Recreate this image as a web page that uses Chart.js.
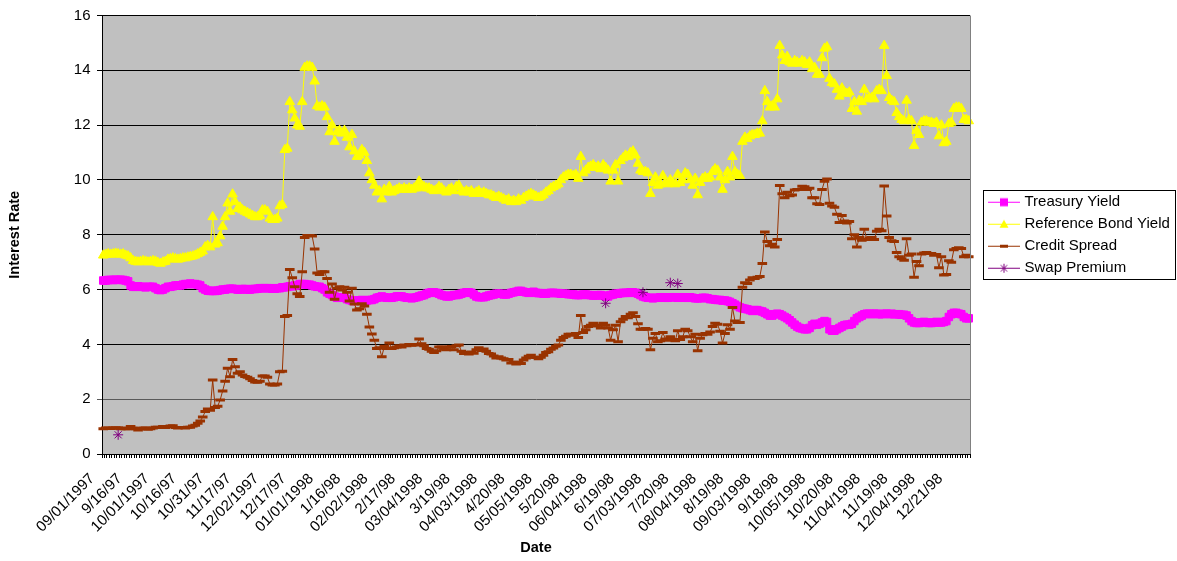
<!DOCTYPE html>
<html><head><meta charset="utf-8">
<script src="https://cdn.jsdelivr.net/npm/chart.js@4.4.0/dist/chart.umd.min.js"></script>
<style>html,body{margin:0;padding:0;background:#fff;}#c{display:block;}</style>
</head><body>
<canvas id="c" width="1177" height="561"></canvas>
<script>
// ---- tick labels (every 11th business day) ----
const tickLabels = ['09/01/1997','9/16/97','10/01/1997','10/16/97','10/31/97','11/17/97','12/02/1997','12/17/97',
 '01/01/1998','1/16/98','02/02/1998','2/17/98','03/04/1998','3/19/98','04/03/1998','4/20/98','05/05/1998','5/20/98',
 '06/04/1998','6/19/98','07/03/1998','7/20/98','08/04/1998','8/19/98','09/03/1998','9/18/98','10/05/1998','10/20/98',
 '11/04/1998','11/19/98','12/04/1998','12/21/98'];
const labelEvery = 11;

// ---- series values ----
const referenceBondYield = [
 7.25,7.28,7.3,7.28,7.3,7.32,7.3,7.28,7.3,7.25,7.22,
 7.15,7.05,7.02,7.0,7.02,7.05,7.03,7.0,7.02,7.05,7.03,
 6.98,6.95,7.0,7.02,7.1,7.12,7.15,7.12,7.1,7.12,7.15,
 7.15,7.18,7.2,7.22,7.25,7.3,7.35,7.4,7.55,7.6,7.55,
 8.65,7.65,7.7,7.95,8.3,8.65,9.15,8.85,9.48,9.2,8.95,
 9.0,8.9,8.85,8.8,8.75,8.7,8.65,8.65,8.7,8.9,
 8.9,8.85,8.6,8.55,8.55,8.6,9.05,9.1,11.1,11.15,12.85,
 12.55,12.25,12.0,11.95,12.85,14.1,14.15,14.15,14.1,13.6,12.7,
 12.65,12.7,12.65,12.3,11.75,12.0,11.4,11.75,11.8,11.7,11.8,
 11.55,11.2,11.65,11.05,10.85,10.9,11.1,11.0,10.7,10.25,10.0,
 9.8,9.55,9.6,9.3,9.65,9.55,9.75,9.55,9.6,9.65,9.7,
 9.65,9.7,9.65,9.7,9.65,9.7,9.7,9.95,9.8,9.75,9.7,
 9.7,9.65,9.6,9.65,9.75,9.7,9.6,9.55,9.65,9.7,9.6,
 9.75,9.8,9.6,9.55,9.6,9.55,9.6,9.5,9.55,9.6,9.5,
 9.55,9.5,9.45,9.45,9.4,9.35,9.4,9.35,9.3,9.25,9.3,
 9.2,9.25,9.2,9.3,9.25,9.35,9.4,9.45,9.5,9.45,
 9.4,9.35,9.4,9.45,9.55,9.6,9.7,9.75,9.8,9.85,10.0,
 10.1,10.15,10.2,10.2,10.15,10.2,10.05,10.85,10.25,10.35,10.45,
 10.5,10.55,10.45,10.5,10.4,10.55,10.45,10.35,9.95,10.35,10.55,
 9.95,10.7,10.8,10.9,10.85,11.0,11.05,10.9,10.6,10.35,10.3,
 10.3,10.25,9.5,9.9,10.1,9.8,9.85,10.15,9.9,9.85,10.0,
 9.9,9.85,10.2,9.9,10.0,10.25,10.2,10.0,9.8,10.05,9.45,
 9.9,10.05,10.1,10.05,10.1,10.3,10.4,10.35,10.1,9.65,10.0,
 10.3,10.1,10.85,10.3,10.2,10.15,11.4,11.55,11.5,11.6,11.65,
 11.65,11.7,11.7,12.15,13.25,12.85,12.65,12.7,12.65,12.95,14.9,
 14.55,14.35,14.5,14.3,14.25,14.35,14.3,14.25,14.35,14.3,14.2,
 14.3,14.05,14.1,13.85,13.85,14.45,14.8,14.85,13.7,13.55,
 13.5,13.3,13.05,13.35,13.2,13.15,13.2,12.6,12.85,12.5,12.9,
 12.85,13.3,12.95,13.0,13.0,12.95,13.25,13.3,13.25,14.9,13.8,
 13.0,12.9,12.85,12.45,12.3,12.2,12.15,12.9,12.2,12.15,11.25,
 11.8,11.65,12.1,12.15,12.15,12.1,12.1,12.05,12.1,11.6,12.0,
 11.35,11.4,12.05,12.1,12.6,12.65,12.65,12.6,12.2,12.2,12.15];

const treasuryYield = [
 6.33,6.33,6.35,6.35,6.35,6.36,6.35,6.36,6.35,6.33,6.3,
 6.15,6.1,6.1,6.12,6.1,6.1,6.08,6.1,6.1,6.1,6.05,
 6.0,5.98,6.0,6.05,6.1,6.1,6.12,6.15,6.15,6.15,6.18,
 6.2,6.2,6.22,6.2,6.2,6.18,6.15,6.05,6.0,5.96,5.95,
 5.95,5.95,5.96,5.98,6.0,6.0,6.02,6.03,6.03,6.02,6.0,
 6.0,6.02,6.02,6.0,6.0,6.02,6.02,6.03,6.05,6.05,
 6.05,6.05,6.05,6.03,6.03,6.05,6.05,6.08,6.08,6.1,6.12,
 6.12,6.15,6.15,6.2,6.2,6.2,6.18,6.18,6.15,6.12,6.1,
 6.1,6.05,6.0,5.9,5.85,5.8,5.75,5.7,5.7,5.72,5.72,
 5.65,5.62,5.6,5.58,5.6,5.6,5.62,5.6,5.6,5.62,5.62,
 5.65,5.7,5.72,5.75,5.72,5.7,5.7,5.7,5.72,5.75,5.75,
 5.75,5.72,5.7,5.7,5.68,5.7,5.72,5.75,5.78,5.8,5.85,
 5.88,5.9,5.9,5.88,5.85,5.8,5.78,5.75,5.75,5.78,5.8,
 5.8,5.82,5.85,5.88,5.9,5.9,5.88,5.82,5.75,5.72,5.72,
 5.72,5.75,5.78,5.8,5.82,5.85,5.85,5.85,5.82,5.82,5.85,
 5.88,5.9,5.92,5.95,5.95,5.92,5.9,5.88,5.9,5.92,
 5.88,5.87,5.87,5.85,5.85,5.87,5.88,5.88,5.87,5.87,5.85,
 5.85,5.85,5.83,5.83,5.82,5.8,5.8,5.8,5.82,5.82,5.8,
 5.8,5.78,5.78,5.8,5.8,5.78,5.75,5.75,5.8,5.82,5.85,
 5.85,5.87,5.88,5.88,5.88,5.9,5.9,5.88,5.85,5.8,5.75,
 5.72,5.7,5.7,5.68,5.7,5.7,5.72,5.72,5.7,5.7,5.72,
 5.72,5.72,5.7,5.72,5.72,5.7,5.7,5.72,5.7,5.68,5.68,
 5.68,5.7,5.7,5.68,5.65,5.65,5.63,5.62,5.62,5.6,5.6,
 5.58,5.55,5.5,5.45,5.4,5.35,5.32,5.3,5.28,5.25,5.22,
 5.25,5.25,5.22,5.2,5.15,5.1,5.05,5.05,5.1,5.12,5.1,
 5.05,5.0,4.95,4.88,4.8,4.72,4.65,4.6,4.58,4.55,4.55,
 4.6,4.7,4.75,4.72,4.75,4.8,4.85,4.82,4.55,4.5,
 4.5,4.55,4.6,4.65,4.7,4.72,4.72,4.75,4.85,4.95,5.0,
 5.05,5.1,5.12,5.12,5.1,5.12,5.12,5.1,5.1,5.12,5.12,
 5.1,5.12,5.1,5.1,5.1,5.08,5.08,5.05,4.95,4.85,4.8,
 4.78,4.78,4.8,4.82,4.8,4.78,4.78,4.8,4.82,4.8,4.8,
 4.82,4.85,5.0,5.1,5.15,5.15,5.12,5.1,5.0,4.95,4.95];

const creditSpread = [
 0.92,0.95,0.95,0.93,0.95,0.96,0.95,0.92,0.95,0.92,0.92,
 1.0,0.95,0.92,0.88,0.92,0.95,0.95,0.9,0.92,0.95,0.98,
 0.98,0.97,1.0,0.97,1.0,1.02,1.03,0.97,0.95,0.97,0.97,
 0.95,0.98,0.98,1.02,1.05,1.12,1.2,1.35,1.55,1.64,1.6,
 2.7,1.7,1.74,1.97,2.3,2.65,3.13,2.82,3.45,3.18,2.95,
 3.0,2.88,2.83,2.8,2.75,2.68,2.63,2.62,2.65,2.85,
 2.85,2.8,2.55,2.52,2.52,2.55,3.0,3.02,5.02,5.05,6.73,
 6.43,6.1,5.85,5.75,6.65,7.9,7.97,7.97,7.95,7.48,6.6,
 6.55,6.65,6.65,6.4,5.9,6.2,5.65,6.05,6.1,5.98,6.08,
 5.9,5.58,6.05,5.47,5.25,5.3,5.48,5.4,5.1,4.63,4.38,
 4.15,3.85,3.88,3.55,3.93,3.85,4.05,3.85,3.88,3.9,3.95,
 3.9,3.98,3.95,4.0,3.97,4.0,3.98,4.2,4.02,3.95,3.85,
 3.82,3.75,3.7,3.77,3.9,3.9,3.82,3.8,3.9,3.92,3.8,
 3.95,3.98,3.75,3.67,3.7,3.65,3.72,3.68,3.8,3.88,3.78,
 3.83,3.75,3.67,3.65,3.58,3.5,3.55,3.5,3.48,3.43,3.45,
 3.32,3.35,3.28,3.35,3.3,3.43,3.5,3.57,3.6,3.53,
 3.52,3.48,3.53,3.6,3.7,3.73,3.82,3.87,3.93,3.98,4.15,
 4.25,4.3,4.37,4.37,4.33,4.4,4.25,5.05,4.43,4.53,4.65,
 4.7,4.77,4.67,4.7,4.6,4.77,4.7,4.6,4.15,4.53,4.7,
 4.1,4.83,4.92,5.02,4.97,5.1,5.15,5.02,4.75,4.55,4.55,
 4.58,4.55,3.8,4.22,4.4,4.1,4.13,4.43,4.2,4.15,4.28,
 4.18,4.13,4.5,4.18,4.28,4.55,4.5,4.28,4.1,4.37,3.77,
 4.22,4.35,4.4,4.37,4.45,4.65,4.77,4.73,4.48,4.05,4.4,
 4.72,4.55,5.35,4.85,4.8,4.8,6.08,6.25,6.22,6.35,6.43,
 6.4,6.45,6.48,6.95,8.1,7.75,7.6,7.65,7.55,7.83,9.8,
 9.5,9.35,9.55,9.42,9.45,9.63,9.65,9.65,9.77,9.75,9.65,
 9.7,9.35,9.35,9.13,9.1,9.65,9.95,10.03,9.15,9.05,
 9.0,8.75,8.45,8.7,8.5,8.43,8.48,7.85,8.0,7.55,7.9,
 7.8,8.2,7.83,7.88,7.9,7.83,8.13,8.2,8.15,9.78,8.68,
 7.9,7.78,7.75,7.35,7.2,7.12,7.07,7.85,7.25,7.3,6.45,
 7.02,6.87,7.3,7.33,7.35,7.32,7.32,7.25,7.28,6.8,7.2,
 6.53,6.55,7.05,7.0,7.45,7.5,7.53,7.5,7.2,7.25,7.2];

// Swap premium: only a few observations (category index -> value)
const swapIndex  = [6, 202, 217, 228, 231];
const swapValues = [0.7, 5.5, 5.9, 6.25, 6.22];

const seriesNames = ['Treasury Yield','Reference Bond Yield','Credit Spread','Swap Premium'];
const seriesColors = ['#FF00FF','#FFFF00','#993300','#800080'];

// ---- tables the library needs ----
const N = referenceBondYield.length;
const categories = Array.from({length: N}, (_, i) =>
  (i % labelEvery === 0 && i / labelEvery < tickLabels.length) ? tickLabels[i / labelEvery] : '');
const swapPremium = new Array(N).fill(null);
swapIndex.forEach((idx, k) => { swapPremium[idx] = swapValues[k]; });

const FONT = "'Liberation Sans', Arial, Helvetica, sans-serif";

// legend sample: line with marker (Excel style)
function legendIcon(kind, color) {
  const c = document.createElement('canvas');
  c.width = 46; c.height = 14;
  const g = c.getContext('2d');
  g.strokeStyle = color; g.fillStyle = color; g.lineWidth = 1;
  g.beginPath(); g.moveTo(14, 7.5); g.lineTo(46, 7.5); g.stroke();
  const cx = 30, cy = 7.5;
  if (kind === 'rect') {
    g.fillRect(cx - 4, cy - 4, 8, 8);
  } else if (kind === 'triangle') {
    g.beginPath(); g.moveTo(cx, cy - 4.5); g.lineTo(cx + 4.5, cy + 3.5); g.lineTo(cx - 4.5, cy + 3.5); g.closePath(); g.fill();
  } else if (kind === 'line') {
    g.lineWidth = 3; g.beginPath(); g.moveTo(cx - 4, cy); g.lineTo(cx + 4, cy); g.stroke();
  } else if (kind === 'star') {
    g.lineWidth = 1; g.beginPath();
    g.moveTo(cx - 4.5, cy); g.lineTo(cx + 4.5, cy);
    g.moveTo(cx, cy - 4.5); g.lineTo(cx, cy + 4.5);
    g.moveTo(cx - 3.2, cy - 3.2); g.lineTo(cx + 3.2, cy + 3.2);
    g.moveTo(cx - 3.2, cy + 3.2); g.lineTo(cx + 3.2, cy - 3.2);
    g.stroke();
  }
  return c;
}
const legendIcons = [
  legendIcon('rect', seriesColors[0]),
  legendIcon('triangle', seriesColors[1]),
  legendIcon('line', seriesColors[2]),
  legendIcon('star', seriesColors[3])
];

const LEG_FONT = 15, LEG_PAD = 7;

const bgPlugin = {
  id: 'plotBg',
  beforeDraw(chart) {
    const {ctx, chartArea: a} = chart;
    if (!a) return;
    ctx.save(); ctx.fillStyle = '#C0C0C0';
    ctx.fillRect(a.left, a.top, a.right - a.left, a.bottom - a.top);
    ctx.restore();
  },
  afterDraw(chart) {
    const {ctx, chartArea: a} = chart;
    ctx.save();
    ctx.strokeStyle = '#808080'; ctx.lineWidth = 1;
    ctx.beginPath(); ctx.moveTo(Math.round(a.right) + 0.5, a.top); ctx.lineTo(Math.round(a.right) + 0.5, a.bottom); ctx.stroke();
    const L = chart.legend;
    if (L) {
      const n = chart.data.datasets.length;
      const rowH = LEG_FONT + LEG_PAD;
      const startY = (L.top + LEG_PAD + L.bottom - n * rowH) / 2;
      const x0 = Math.round(L.left + 13) + 0.5;
      const y0 = Math.round(startY - 4) + 0.5;
      const y1 = Math.round(startY + (n - 1) * rowH + LEG_FONT + 4) + 0.5;
      const x1 = Math.round(L.right - 2) + 0.5;
      ctx.strokeStyle = '#000'; ctx.lineWidth = 1;
      ctx.strokeRect(x0, y0, x1 - x0, y1 - y0);
    }
    ctx.restore();
  }
};

new Chart(document.getElementById('c'), {
  type: 'line',
  data: {
    labels: categories,
    datasets: [
      { label: seriesNames[0], data: treasuryYield, borderColor: seriesColors[0], backgroundColor: seriesColors[0],
        borderWidth: 1, pointStyle: 'rect', pointRadius: 5.3, pointBorderWidth: 1, order: 4 },
      { label: seriesNames[1], data: referenceBondYield, borderColor: seriesColors[1], backgroundColor: seriesColors[1],
        borderWidth: 1, pointStyle: 'triangle', pointRadius: 5.5, pointBorderWidth: 1, order: 3 },
      { label: seriesNames[2], data: creditSpread, borderColor: seriesColors[2], backgroundColor: seriesColors[2],
        borderWidth: 1, pointStyle: 'line', pointRadius: 4.8, pointBorderWidth: 3, order: 2 },
      { label: seriesNames[3], data: swapPremium, borderColor: seriesColors[3], backgroundColor: seriesColors[3],
        borderWidth: 1, pointStyle: 'star', pointRadius: 5, pointBorderWidth: 1, spanGaps: false, order: 1 }
    ]
  },
  options: {
    responsive: false,
    animation: false,
    devicePixelRatio: 1,
    elements: { line: { tension: 0 } },
    layout: { padding: { left: 2, top: 14, right: 0, bottom: 0 } },
    plugins: {
      tooltip: { enabled: false },
      legend: {
        position: 'right',
        fullSize: false,
        maxWidth: 207,
        labels: {
          usePointStyle: true,
          pointStyleWidth: 40,
          padding: LEG_PAD,
          color: '#000',
          font: { family: FONT, size: LEG_FONT },
          sort: (a, b) => a.datasetIndex - b.datasetIndex,
          generateLabels(chart) {
            const items = Chart.defaults.plugins.legend.labels.generateLabels(chart);
            items.forEach(it => { it.pointStyle = legendIcons[it.datasetIndex]; });
            return items;
          }
        }
      }
    },
    scales: {
      x: {
        type: 'category',
        offset: true,
        grid: { display: true, drawOnChartArea: false, drawTicks: true, tickLength: 4, color: '#000', lineWidth: 1, offset: true },
        border: { display: true, color: '#000', width: 1 },
        ticks: { autoSkip: false, minRotation: 45, maxRotation: 45, padding: 12, labelOffset: -11, color: '#000',
                 font: { family: FONT, size: 15 } },
        title: { display: true, text: 'Date', color: '#000', font: { family: FONT, size: 14.5, weight: 'bold' },
                 padding: { top: 4, bottom: 4 } },
        afterFit(s) { s.height = 107; }
      },
      y: {
        min: 0, max: 16,
        grid: { color: (c) => (c.tick && c.tick.value === 2) ? '#5a5a5a' : '#000', lineWidth: 1, tickLength: 5, drawTicks: true },
        border: { display: true, color: '#000', width: 1 },
        ticks: { stepSize: 2, padding: 6.5, color: '#000', font: { family: FONT, size: 15 } },
        title: { display: true, text: 'Interest Rate', color: '#000', font: { family: FONT, size: 14.5, weight: 'bold' },
                 padding: { top: 4, bottom: 4 } },
        afterFit(s) { s.width = 100; }
      }
    }
  },
  plugins: [bgPlugin]
});
</script>
</body></html>
